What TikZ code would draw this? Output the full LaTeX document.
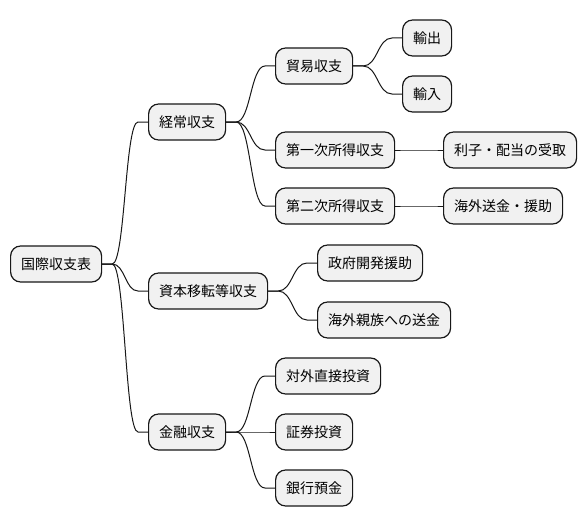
\documentclass[tikz,border=0pt]{standalone}
\usepackage{fontspec}
\setmainfont{Noto Sans CJK JP}
\usetikzlibrary{calc}
\definecolor{boxfill}{HTML}{F1F1F1}
\definecolor{boxline}{HTML}{181818}
\tikzset{
  mmbox/.style={draw=boxline, fill=boxfill, line width=1.2pt, rounded corners=10pt,
    minimum height=36pt, inner xsep=10.5pt, inner ysep=0pt, anchor=west,
    font=\fontsize{14pt}{16pt}\selectfont, text=black},
  edge/.style={draw=boxline, line width=1pt}
}
\newcommand{\mmlink}[2]{%
  \path (#1.east) ++(10pt,0) coordinate (A) (#2.west) ++(-10pt,0) coordinate (B);
  \path ($(A)!0.5!(B)$) coordinate (M);
  \draw[edge] (#1.east) -- (A) .. controls (A -| M) and (B -| M) .. (B) -- (#2.west);}
\begin{document}
\begin{tikzpicture}[x=1pt,y=-1pt]
\useasboundingbox[fill=white] (0,0) rectangle (586,527);
\node[mmbox] (root) at (10,264) {国際収支表};
\node[mmbox] (k1) at (148,122) {経常収支};
\node[mmbox] (k2) at (148,291) {資本移転等収支};
\node[mmbox] (k3) at (148,432) {金融収支};
\node[mmbox] (t) at (275,66) {貿易収支};
\node[mmbox] (ex) at (402,38) {輸出};
\node[mmbox] (im) at (402,94) {輸入};
\node[mmbox] (p1) at (275,150) {第一次所得収支};
\node[mmbox] (ri) at (443,150) {利子・配当の受取};
\node[mmbox] (p2) at (275,206) {第二次所得収支};
\node[mmbox] (ka) at (443,206) {海外送金・援助};
\node[mmbox] (oda) at (317,263) {政府開発援助};
\node[mmbox] (fam) at (317,320) {海外親族への送金};
\node[mmbox] (fdi) at (275,376) {対外直接投資};
\node[mmbox] (sec) at (275,432) {証券投資};
\node[mmbox] (bank) at (275,488) {銀行預金};
\mmlink{root}{k1}
\mmlink{root}{k2}
\mmlink{root}{k3}
\mmlink{k1}{t}
\mmlink{k1}{p1}
\mmlink{k1}{p2}
\mmlink{t}{ex}
\mmlink{t}{im}
\mmlink{p1}{ri}
\mmlink{p2}{ka}
\mmlink{k2}{oda}
\mmlink{k2}{fam}
\mmlink{k3}{fdi}
\mmlink{k3}{sec}
\mmlink{k3}{bank}
\end{tikzpicture}
\end{document}
